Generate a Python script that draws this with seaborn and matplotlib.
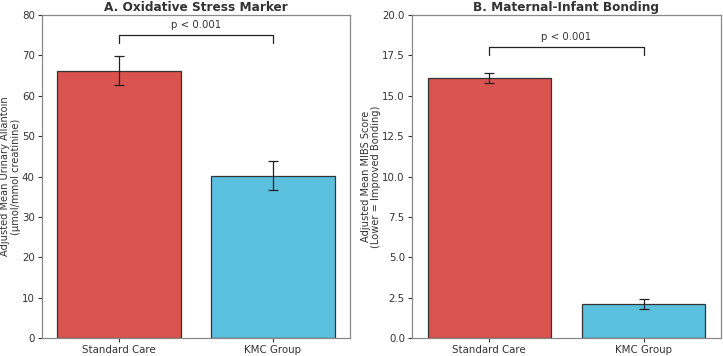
import numpy as np
import pandas as pd
import seaborn as sns
import matplotlib.pyplot as plt

# data
groups = ["Standard Care", "KMC Group"]
allantoin_mean = [66.2, 40.2]
allantoin_err = [3.6, 3.6]
mibs_mean = [16.1, 2.1]
mibs_err = [0.3, 0.3]
colors = ["#d9534f", "#5bc0de"]

sns.set_style("ticks")
plt.rcParams["font.family"] = ["DejaVu Sans"]
plt.rcParams["text.color"] = "#333333"
plt.rcParams["axes.labelcolor"] = "#333333"
plt.rcParams["xtick.color"] = "#333333"
plt.rcParams["ytick.color"] = "#333333"

fig = plt.figure(figsize=(7.23, 3.56), dpi=100)
ax1 = fig.add_axes([0.058, 0.05, 0.426, 0.908])
ax2 = fig.add_axes([0.570, 0.05, 0.427, 0.908])


def panel(ax, means, errs, title, ylabel, ylim, yticks, br_y, br_h, txt_y):
    df = pd.DataFrame({"group": groups, "value": means})
    sns.barplot(data=df, x="group", y="value", hue="group", palette=colors,
                order=groups, hue_order=groups, saturation=1, width=0.8,
                edgecolor="#333333", linewidth=0.9, legend=False, ax=ax)
    ax.errorbar(np.arange(len(groups)), means, yerr=errs, fmt="none",
                ecolor="#222222", elinewidth=0.9, capsize=3.8, capthick=0.9)
    ax.set_ylim(*ylim)
    ax.set_yticks(yticks)
    ax.set_xlim(-0.5, 1.5)
    ax.set_title(title, fontsize=8.7, fontweight="bold", pad=2.5)
    ax.set_ylabel(ylabel, fontsize=7.1, labelpad=0.5, linespacing=1.1)
    ax.set_xlabel("")
    ax.tick_params(labelsize=7.4, length=3, width=0.8, pad=2.2)
    for s in ax.spines.values():
        s.set_color("#888888")
        s.set_linewidth(0.9)
    # significance bracket
    ax.plot([0, 0, 1, 1], [br_y - br_h, br_y, br_y, br_y - br_h],
            color="#222222", lw=0.9)
    ax.text(0.5, txt_y, "p < 0.001", ha="center", va="bottom", fontsize=7.3)


panel(ax1, allantoin_mean, allantoin_err, "A. Oxidative Stress Marker",
      "Adjusted Mean Urinary Allantoin\n(\u00b5mol/mmol creatinine)",
      (0, 80), range(0, 81, 10), 75, 2, 76.2)
panel(ax2, mibs_mean, mibs_err, "B. Maternal-Infant Bonding",
      "Adjusted Mean MIBS Score\n(Lower = Improved Bonding)",
      (0, 20), np.arange(0, 20.1, 2.5), 18.0, 0.5, 18.3)
ax2.yaxis.set_major_formatter(plt.FormatStrFormatter("%.1f"))

plt.savefig("out.png", dpi=100)
